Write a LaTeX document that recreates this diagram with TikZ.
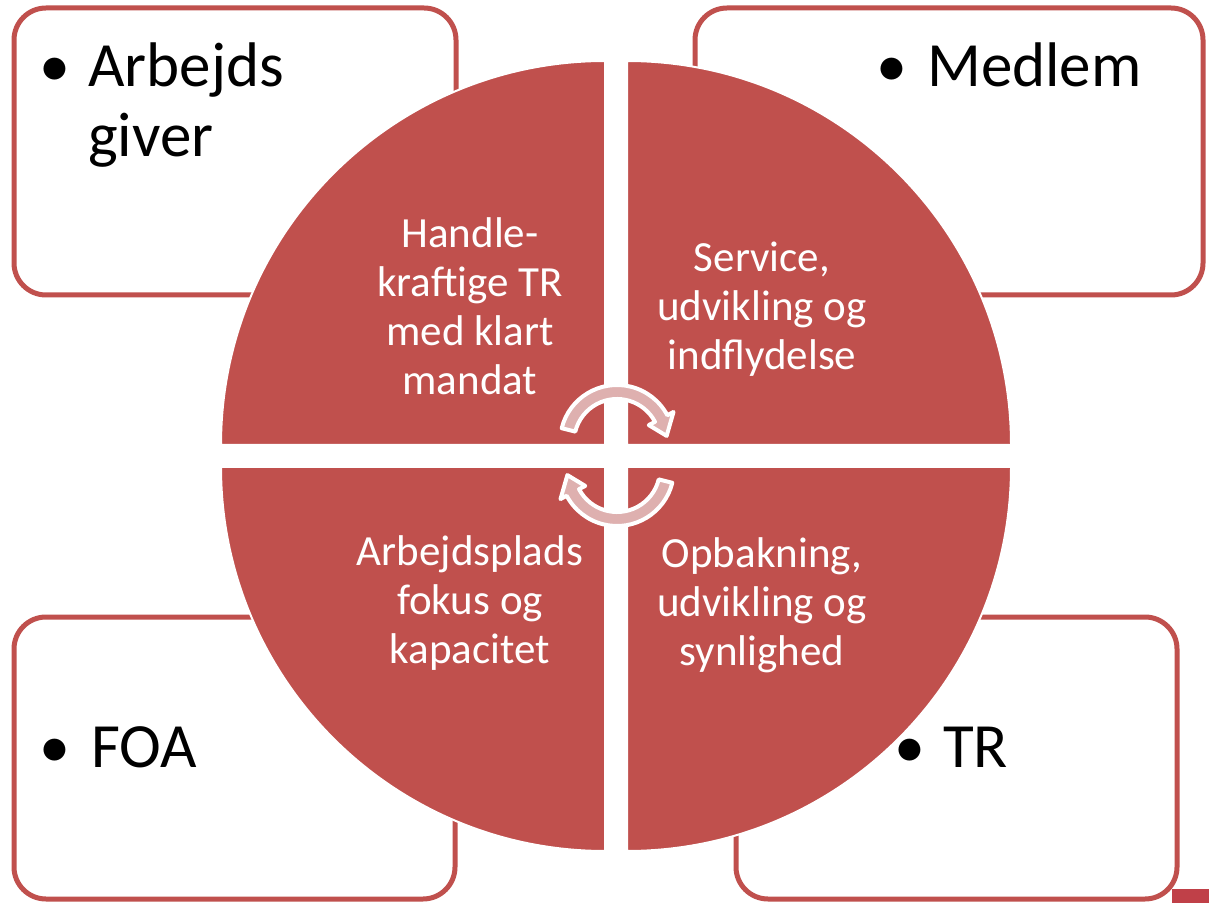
\documentclass[tikz,border=0pt]{standalone}
\usepackage{fontspec}
\setmainfont{Carlito}
\definecolor{qred}{RGB}{192,80,77}
\definecolor{apink}{RGB}{222,176,175}
\definecolor{stripred}{RGB}{192,64,72}
\tikzset{
  box/.style={draw=qred, line width=5pt, fill=white, rounded corners=32pt},
  quad/.style={fill=qred, draw=white, line width=2pt},
  arr/.style={fill=apink, draw=white, line width=4pt, line join=round},
  big/.style={font=\fontsize{63}{70}\selectfont, text=black, inner sep=0pt, align=left},
  bul/.style={font=\fontsize{62}{70}\selectfont, text=black, inner sep=0pt},
  inner/.style={font=\fontsize{43}{49}\selectfont, text=white, inner sep=0pt, align=center}
}
\begin{document}
\begin{tikzpicture}[x=1pt,y=1pt]
\useasboundingbox (0,0) rectangle (1209,903);
\fill[white] (0,0) rectangle (1209,903);
% bottom-right strip
\fill[stripred] (1172,0) rectangle (1209,14);
% boxes
\path[box] (14,608) rectangle (456,895);
\path[box] (695,608) rectangle (1203,895);
\path[box] (14,4) rectangle (455,286);
\path[box] (736,4) rectangle (1177,286);
% box texts
\node[bul, anchor=base] (b1) at (55,816) {•};
\node[big, anchor=base west] (t1) at (88,746) {Arbejds\\giver};
\node[bul, anchor=base] (b2) at (892,816) {•};
\node[big, anchor=base west] (t2) at (927,816) {Medlem};
\node[bul, anchor=base] (b3) at (55,136) {•};
\node[big, anchor=base west] (t3) at (91,136) {FOA};
\node[bul, anchor=base] (b4) at (910,136) {•};
\node[big, anchor=base west] (t4) at (943,136) {TR};
% quadrants
\path[quad] (605,458) -- ++(-384,0) arc[start angle=180, end angle=90, radius=384] -- cycle;
\path[quad] (627,458) -- ++(0,384) arc[start angle=90, end angle=0, radius=384] -- cycle;
\path[quad] (605,436) -- ++(-384,0) arc[start angle=180, end angle=270, radius=384] -- cycle;
\path[quad] (627,436) -- ++(384,0) arc[start angle=0, end angle=-90, radius=384] -- cycle;
% quadrant texts
\node[inner, anchor=base] (q1) at (470,508) {Handle-\\kraftige TR\\med klart\\mandat};
\node[inner, anchor=base] (q2) at (762,533) {Service,\\udvikling og\\indflydelse};
\node[inner, anchor=base] (q3) at (470,240) {Arbejdsplads\\fokus og\\kapacitet};
\node[inner, anchor=base] (q4) at (762,238) {Opbakning,\\udvikling og\\synlighed};
% circular arrows
\begin{scope}[shift={(617,461)}]
\path[arr] (166:57) arc[start angle=166, end angle=28, radius=57] -- (28:64) -- (7:50) -- (28:36) -- (28:43) arc[start angle=28, end angle=166, radius=43] -- cycle;
\end{scope}
\begin{scope}[shift={(617,434)}, rotate=180]
\path[arr] (166:57) arc[start angle=166, end angle=28, radius=57] -- (28:64) -- (7:50) -- (28:36) -- (28:43) arc[start angle=28, end angle=166, radius=43] -- cycle;
\end{scope}
\end{tikzpicture}
\end{document}
